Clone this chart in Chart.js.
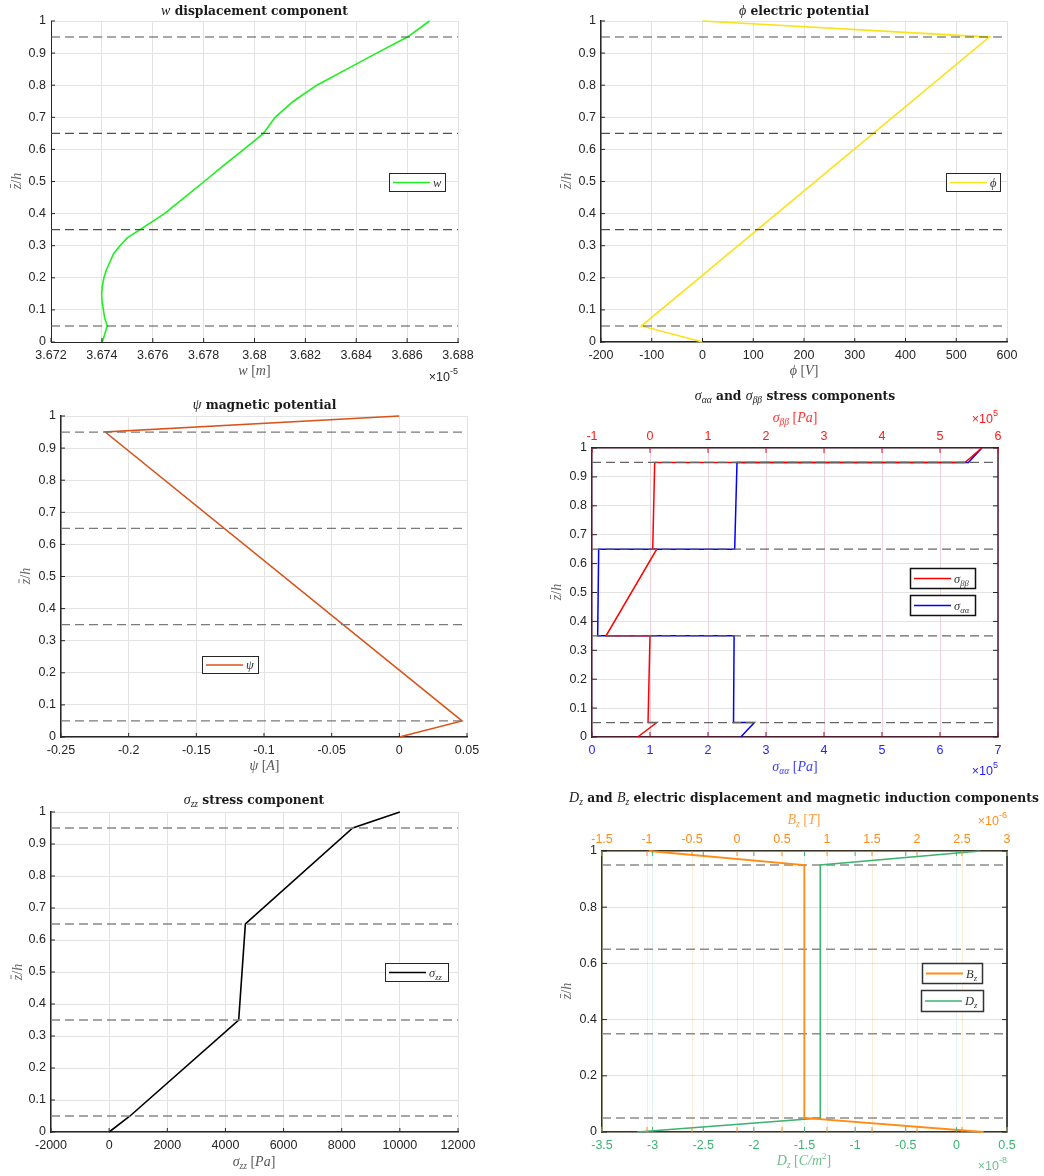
<!DOCTYPE html>
<html>
<head>
<meta charset="utf-8">
<script src="https://cdn.jsdelivr.net/npm/chart.js@4.4.1/dist/chart.umd.min.js"></script>
<style>
  html, body { margin: 0; padding: 0; background: #ffffff; }
  #page { position: relative; width: 1044px; height: 1176px; overflow: hidden; }
  #page canvas { position: absolute; left: 0; top: 0; }
</style>
</head>
<body>
<div id="page"></div>
<script>
// ---------------- data ----------------
// layer interfaces through the thickness (z/h)
const interfaces = [0.05, 0.35, 0.65, 0.95];
const zTicks = [0, 0.1, 0.2, 0.3, 0.4, 0.5, 0.6, 0.7, 0.8, 0.9, 1];
const zTicksCoarse = [0, 0.2, 0.4, 0.6, 0.8, 1];

// transverse displacement w, in units of 1e-5 m
const wZ   = [0, 0.05, 0.075, 0.1, 0.125, 0.15, 0.175, 0.2, 0.225, 0.25, 0.275, 0.3, 0.325, 0.35,
              0.4, 0.45, 0.5, 0.55, 0.6, 0.65, 0.7, 0.75, 0.8, 0.85, 0.9, 0.95, 1];
const wVal = [3.67402, 3.67421, 3.67411, 3.67406, 3.67401, 3.67399, 3.67402, 3.67408, 3.67418, 3.67432,
              3.67446, 3.67471, 3.67501, 3.67550, 3.67646, 3.67724, 3.67802, 3.67879, 3.67958, 3.68035,
              3.68081, 3.68153, 3.68245, 3.68363, 3.68480, 3.68601, 3.68688];
const wTicks = [3.672, 3.674, 3.676, 3.678, 3.68, 3.682, 3.684, 3.686, 3.688];

// electric potential phi [V]
const phiZ = [0, 0.05, 0.95, 1];
const phiVal = [0, -120, 565, 0];
const phiTicks = [-200, -100, 0, 100, 200, 300, 400, 500, 600];

// magnetic potential psi [A]
const psiZ = [0, 0.05, 0.95, 1];
const psiVal = [0, 0.0463, -0.2173, 0];
const psiTicks = [-0.25, -0.2, -0.15, -0.1, -0.05, 0, 0.05];

// in-plane stresses, in units of 1e5 Pa
const stressZ = [0, 0.05, 0.05, 0.35, 0.35, 0.65, 0.65, 0.95, 0.95, 1];
const sigmaAA = [2.565, 2.80, 2.44, 2.45, 0.098, 0.115, 2.46, 2.50, 6.49, 6.72];
const sigmaBB = [-0.212, 0.116, -0.034, 0.0, -0.758, 0.116, 0.047, 0.081, 5.43, 5.72];
const sigmaAATicks = [0, 1, 2, 3, 4, 5, 6, 7];
const sigmaBBTicks = [-1, 0, 1, 2, 3, 4, 5, 6];

// transverse normal stress sigma_zz [Pa]
const szzZ = [0, 0.05, 0.35, 0.65, 0.95, 1];
const szzVal = [0, 718, 4456, 4686, 8378, 10000];
const szzTicks = [-2000, 0, 2000, 4000, 6000, 8000, 10000, 12000];

// magnetic induction B_z (1e-6 T) and electric displacement D_z (1e-8 C/m^2)
const fieldZ = [0, 0.05, 0.95, 1];
const bzVal = [2.74, 0.748, 0.748, -0.98];
const dzVal = [-3.154, -1.344, -1.344, 0.236];
const bzTicks = [-1.5, -1, -0.5, 0, 0.5, 1, 1.5, 2, 2.5, 3];
const dzTicks = [-3.5, -3, -2.5, -2, -1.5, -1, -0.5, 0, 0.5];

// ---------------- drawing helpers ----------------
const PAGE_W = 1044, PAGE_H = 1176;
const Y_W = 40, X_H = 30, XT_H = 30;
const SANS = '"Liberation Sans", Arial, sans-serif';
const SERIF = '"Liberation Serif", "DejaVu Serif", serif';
const TITLE_BOLD = 'bold 12.3px "DejaVu Serif", serif';
const TITLE_MATH = 'italic 14px ' + SERIF;
const TITLE_SUB = 'italic 9.5px ' + SERIF;
const LABEL_MATH = 'italic 14px ' + SERIF;
const LABEL_ROMAN = '14px ' + SERIF;
const LABEL_SUB = 'italic 9.5px ' + SERIF;
const LEG_MATH = 'italic 12.5px ' + SERIF;
const LEG_SUB = 'italic 8.5px ' + SERIF;
const TICK_FONT = { family: SANS, size: 12.5 };

function seg(t, font, dy, color, bar) { return { t, font, dy: dy || 0, color, bar }; }
const zip = (xs, zs) => xs.map((v, i) => ({ x: v, y: zs[i] }));

// draws a run of differently styled pieces of text on one baseline
function drawRich(ctx, segs, x, y, align, color, rot) {
  ctx.save();
  ctx.translate(x, y);
  if (rot) ctx.rotate(rot);
  ctx.textBaseline = 'alphabetic';
  ctx.textAlign = 'left';
  let w = 0;
  segs.forEach(s => { ctx.font = s.font; w += ctx.measureText(s.t).width; });
  let cx = align === 'center' ? -w / 2 : (align === 'right' ? -w : 0);
  segs.forEach(s => {
    ctx.font = s.font;
    const c = s.color || color;
    ctx.fillStyle = c;
    ctx.fillText(s.t, cx, s.dy);
    const sw = ctx.measureText(s.t).width;
    if (s.bar) {
      // overbar above the glyph
      ctx.strokeStyle = c; ctx.lineWidth = 0.9;
      ctx.beginPath();
      ctx.moveTo(cx + sw * 0.2, s.dy - 10.5);
      ctx.lineTo(cx + sw * 0.95, s.dy - 10.5);
      ctx.stroke();
    }
    cx += sw;
  });
  ctx.restore();
}

function expLabel(exp, color, x, y) {
  return { segs: [seg('\u00d710', '12.5px ' + SANS), seg(exp, '9px ' + SANS, -7)], x, y, align: 'right', color };
}
function zLabel(x, y) {
  return { segs: [seg('z', LABEL_MATH, 0, null, true), seg('/', LABEL_ROMAN), seg('h', LABEL_MATH)],
           x, y, align: 'center', color: '#666666', rot: -Math.PI / 2 };
}

const decorPlugin = {
  id: 'panelDecor',
  afterDraw(chart, args, p) {
    const ctx = chart.ctx;
    const ca = chart.chartArea;
    ctx.save();
    // extra frame edges
    (p.frameEdges || []).forEach(e => {
      ctx.strokeStyle = e.color; ctx.lineWidth = e.width || 1;
      ctx.beginPath();
      if (e.edge === 'right') { ctx.moveTo(ca.right, ca.top); ctx.lineTo(ca.right, ca.bottom); }
      if (e.edge === 'top') { ctx.moveTo(ca.left, ca.top); ctx.lineTo(ca.right, ca.top); }
      ctx.stroke();
    });
    // inward tick marks
    (p.tickMarks || []).forEach(m => {
      const sc = chart.scales[m.scale];
      ctx.strokeStyle = m.color; ctx.lineWidth = 1;
      sc.ticks.forEach(t => {
        const px = sc.getPixelForValue(t.value);
        ctx.beginPath();
        if (m.edge === 'bottom') { ctx.moveTo(px, ca.bottom); ctx.lineTo(px, ca.bottom - m.len); }
        if (m.edge === 'top') { ctx.moveTo(px, ca.top); ctx.lineTo(px, ca.top + m.len); }
        if (m.edge === 'left') { ctx.moveTo(ca.left, px); ctx.lineTo(ca.left + m.len, px); }
        if (m.edge === 'right') { ctx.moveTo(ca.right, px); ctx.lineTo(ca.right - m.len, px); }
        ctx.stroke();
      });
    });
    // legends
    (p.legends || []).forEach(L => {
      const [l, t, r, b] = L.box;
      ctx.fillStyle = '#ffffff';
      ctx.fillRect(l, t, r - l, b - t);
      ctx.strokeStyle = L.frame || '#262626'; ctx.lineWidth = L.frameWidth || 1;
      ctx.strokeRect(l + 0.5, t + 0.5, r - l, b - t);
      const my = (t + b) / 2 + 0.5;
      ctx.strokeStyle = L.color; ctx.lineWidth = L.width;
      ctx.beginPath(); ctx.moveTo(l + 4, my); ctx.lineTo(l + 41, my); ctx.stroke();
      drawRich(ctx, L.label, l + 44, my + 4, 'left', '#333333');
    });
    // texts
    (p.texts || []).forEach(T => drawRich(ctx, T.segs, T.x, T.y, T.align, T.color, T.rot));
    ctx.restore();
  }
};

function fixSize(size, horizontal) {
  return (scale) => {
    if (horizontal) scale.height = size; else scale.width = size;
    scale.paddingLeft = 0; scale.paddingRight = 0; scale.paddingTop = 0; scale.paddingBottom = 0;
  };
}
function useTicks(arr) { return (scale) => { scale.ticks = arr.map(v => ({ value: v })); }; }

function axisDef(a, position, size, horizontal) {
  return {
    type: 'linear',
    position,
    min: a.ticks[0],
    max: a.ticks[a.ticks.length - 1],
    afterBuildTicks: useTicks(a.ticks),
    afterFit: fixSize(size, horizontal),
    grid: { display: !!a.grid, color: a.grid || 'rgba(0,0,0,0)', lineWidth: 1, drawTicks: false },
    border: { display: true, color: a.border, width: a.borderWidth || 1 },
    ticks: {
      color: a.color, font: TICK_FONT, padding: a.padding, autoSkip: false,
      maxRotation: 0, minRotation: 0, callback: (v) => String(v)
    }
  };
}

function makePanel(p) {
  const cv = document.createElement('canvas');
  cv.width = PAGE_W; cv.height = PAGE_H;
  document.getElementById('page').appendChild(cv);
  const a = p.area;
  const scales = {
    x: axisDef(p.bottom, 'bottom', X_H, true),
    y: axisDef(p.left, 'left', Y_W, false)
  };
  if (p.top) scales.xt = axisDef(p.top, 'top', XT_H, true);

  const datasets = [];
  p.series.forEach((s) => datasets.push({
    label: s.name, data: zip(s.x, s.z), xAxisID: s.axis || 'x', yAxisID: 'y',
    borderColor: s.color, borderWidth: s.width, pointRadius: 0, fill: false,
    tension: 0, clip: false, order: s.order
  }));
  const xr = [p.bottom.ticks[0], p.bottom.ticks[p.bottom.ticks.length - 1]];
  interfaces.forEach(z => datasets.push({
    label: 'interface', data: [{ x: xr[0], y: z }, { x: xr[1], y: z }], xAxisID: 'x', yAxisID: 'y',
    borderColor: p.dash.color, borderWidth: p.dash.width, borderDash: [9, 5],
    pointRadius: 0, fill: false, clip: false, order: p.dash.order
  }));

  new Chart(cv, {
    type: 'line',
    data: { datasets },
    options: {
      responsive: false, animation: false, events: [],
      layout: { padding: {
        left: a.l - Y_W, top: a.t - (p.top ? XT_H : 0),
        right: PAGE_W - a.r, bottom: PAGE_H - a.b - X_H } },
      scales,
      plugins: {
        legend: { display: false }, tooltip: { enabled: false }, title: { display: false },
        panelDecor: p.decor
      }
    },
    plugins: [decorPlugin]
  });
}

const GRID = '#e3e3e3';
const AX = '#262626';
const plainTicks = [
  { scale: 'x', edge: 'bottom', color: AX, len: 4 },
  { scale: 'y', edge: 'left', color: AX, len: 4 }
];

// ---------------- panel 1: w displacement ----------------
makePanel({
  area: { l: 51, t: 21, r: 458, b: 342 },
  bottom: { ticks: wTicks, grid: GRID, border: AX, color: AX, padding: 6 },
  left: { ticks: zTicks, grid: GRID, border: AX, color: AX, padding: 5 },
  series: [{ name: 'w', x: wVal, z: wZ, color: '#1ef01e', width: 1.6, order: 2 }],
  dash: { color: '#505050', width: 1.1, order: 1 },
  decor: {
    tickMarks: plainTicks,
    legends: [{ box: [389, 173, 445, 191], color: '#1ef01e', width: 1.6, label: [seg('w', LEG_MATH)] }],
    texts: [
      { segs: [seg('w', TITLE_MATH), seg(' displacement component', TITLE_BOLD)], x: 254.5, y: 15, align: 'center', color: '#1a1a1a' },
      { segs: [seg('w', LABEL_MATH), seg(' [', LABEL_ROMAN), seg('m', LABEL_MATH), seg(']', LABEL_ROMAN)], x: 254.5, y: 375, align: 'center', color: '#555555' },
      expLabel('-5', AX, 458, 381),
      zLabel(21, 181)
    ]
  }
});

// ---------------- panel 2: phi electric potential ----------------
makePanel({
  area: { l: 601, t: 21, r: 1007, b: 342 },
  bottom: { ticks: phiTicks, grid: GRID, border: AX, color: AX, padding: 6, borderWidth: 1.5 },
  left: { ticks: zTicks, grid: GRID, border: AX, color: AX, padding: 5, borderWidth: 1.5 },
  series: [{ name: 'phi', x: phiVal, z: phiZ, color: '#fbe21c', width: 1.7, order: 2 }],
  dash: { color: '#505050', width: 1.1, order: 1 },
  decor: {
    tickMarks: plainTicks,
    legends: [{ box: [946, 173, 1000, 191], color: '#fbe21c', width: 1.7, label: [seg('\u03d5', LEG_MATH)] }],
    texts: [
      { segs: [seg('\u03d5', TITLE_MATH), seg(' electric potential', TITLE_BOLD)], x: 804, y: 15, align: 'center', color: '#1a1a1a' },
      { segs: [seg('\u03d5', LABEL_MATH), seg(' [', LABEL_ROMAN), seg('V', LABEL_MATH), seg(']', LABEL_ROMAN)], x: 804, y: 375, align: 'center', color: '#555555' },
      zLabel(571, 181)
    ]
  }
});

// ---------------- panel 3: psi magnetic potential ----------------
makePanel({
  area: { l: 61, t: 416, r: 467, b: 737 },
  bottom: { ticks: psiTicks, grid: GRID, border: AX, color: AX, padding: 6, borderWidth: 1.5 },
  left: { ticks: zTicks, grid: GRID, border: AX, color: AX, padding: 5, borderWidth: 1.5 },
  series: [{ name: 'psi', x: psiVal, z: psiZ, color: '#d95319', width: 1.6, order: 2 }],
  dash: { color: '#7a7a7a', width: 1.2, order: 1 },
  decor: {
    tickMarks: plainTicks,
    legends: [{ box: [202, 656, 258, 673], color: '#d95319', width: 1.6, label: [seg('\u03c8', LEG_MATH)] }],
    texts: [
      { segs: [seg('\u03c8', TITLE_MATH), seg(' magnetic potential', TITLE_BOLD)], x: 264.5, y: 409, align: 'center', color: '#1a1a1a' },
      { segs: [seg('\u03c8', LABEL_MATH), seg(' [', LABEL_ROMAN), seg('A', LABEL_MATH), seg(']', LABEL_ROMAN)], x: 264.5, y: 770, align: 'center', color: '#555555' },
      zLabel(29.5, 576)
    ]
  }
});

// ---------------- panel 4: in-plane stresses ----------------
const FRAME4 = '#4a1e2c';
makePanel({
  area: { l: 592, t: 448, r: 998, b: 737 },
  bottom: { ticks: sigmaAATicks, grid: null, border: FRAME4, color: '#1f1fff', padding: 6, borderWidth: 1.5 },
  top: { ticks: sigmaBBTicks, grid: '#efd3dc', border: FRAME4, color: '#ff1a1a', padding: 4, borderWidth: 1.5 },
  left: { ticks: zTicks, grid: GRID, border: FRAME4, color: AX, padding: 5, borderWidth: 1.5 },
  series: [
    { name: 'sigma_bb', x: sigmaBB, z: stressZ, axis: 'xt', color: '#ff0000', width: 1.5, order: 1 },
    { name: 'sigma_aa', x: sigmaAA, z: stressZ, axis: 'x', color: '#0000ff', width: 1.5, order: 2 }
  ],
  dash: { color: '#666666', width: 1.2, order: 0 },
  decor: {
    frameEdges: [{ edge: 'right', color: FRAME4, width: 1.5 }],
    tickMarks: [
      { scale: 'xt', edge: 'top', color: '#d01030', len: 5 },
      { scale: 'x', edge: 'bottom', color: '#8a1030', len: 5 },
      { scale: 'y', edge: 'left', color: AX, len: 5 },
      { scale: 'y', edge: 'right', color: AX, len: 5 }
    ],
    legends: [
      { box: [910, 568, 975, 588], color: '#ff0000', width: 1.5, frameWidth: 1.5, frame: '#111111',
        label: [seg('\u03c3', LEG_MATH), seg('\u03b2\u03b2', LEG_SUB, 3)] },
      { box: [910, 595, 975, 615], color: '#0000ff', width: 1.5, frameWidth: 1.5, frame: '#111111',
        label: [seg('\u03c3', LEG_MATH), seg('\u03b1\u03b1', LEG_SUB, 3)] }
    ],
    texts: [
      { segs: [seg('\u03c3', TITLE_MATH), seg('\u03b1\u03b1', TITLE_SUB, 3), seg(' and ', TITLE_BOLD),
               seg('\u03c3', TITLE_MATH), seg('\u03b2\u03b2', TITLE_SUB, 3), seg(' stress components', TITLE_BOLD)],
        x: 795, y: 400, align: 'center', color: '#1a1a1a' },
      { segs: [seg('\u03c3', LABEL_MATH), seg('\u03b2\u03b2', LABEL_SUB, 3), seg(' [', LABEL_ROMAN), seg('Pa', LABEL_MATH), seg(']', LABEL_ROMAN)],
        x: 795, y: 422, align: 'center', color: '#ff3030' },
      { segs: [seg('\u03c3', LABEL_MATH), seg('\u03b1\u03b1', LABEL_SUB, 3), seg(' [', LABEL_ROMAN), seg('Pa', LABEL_MATH), seg(']', LABEL_ROMAN)],
        x: 795, y: 771, align: 'center', color: '#3a3aff' },
      expLabel('5', '#ff1a1a', 998, 423),
      expLabel('5', '#1f1fff', 998, 775),
      zLabel(561, 592)
    ]
  }
});

// ---------------- panel 5: sigma_zz ----------------
makePanel({
  area: { l: 51, t: 812, r: 458, b: 1132 },
  bottom: { ticks: szzTicks, grid: GRID, border: AX, color: AX, padding: 6, borderWidth: 1.5 },
  left: { ticks: zTicks, grid: GRID, border: AX, color: AX, padding: 5, borderWidth: 1.5 },
  series: [{ name: 'sigma_zz', x: szzVal, z: szzZ, color: '#000000', width: 1.6, order: 2 }],
  dash: { color: '#888888', width: 1.5, order: 1 },
  decor: {
    tickMarks: plainTicks,
    legends: [{ box: [385, 963, 448, 981], color: '#000000', width: 1.6,
      label: [seg('\u03c3', LEG_MATH), seg('zz', LEG_SUB, 3)] }],
    texts: [
      { segs: [seg('\u03c3', TITLE_MATH), seg('zz', TITLE_SUB, 3), seg(' stress component', TITLE_BOLD)],
        x: 254, y: 804, align: 'center', color: '#1a1a1a' },
      { segs: [seg('\u03c3', LABEL_MATH), seg('zz', LABEL_SUB, 3), seg(' [', LABEL_ROMAN), seg('Pa', LABEL_MATH), seg(']', LABEL_ROMAN)],
        x: 254, y: 1166, align: 'center', color: '#555555' },
      zLabel(21.5, 972)
    ]
  }
});

// ---------------- panel 6: D_z and B_z ----------------
const FRAME6 = '#3d3426';
const ORANGE = '#ff8c14', GREEN = '#3cb371';
makePanel({
  area: { l: 602, t: 851, r: 1007, b: 1132 },
  bottom: { ticks: dzTicks, grid: 'rgba(60,179,113,0.16)', border: FRAME6, color: GREEN, padding: 6, borderWidth: 1.5 },
  top: { ticks: bzTicks, grid: 'rgba(255,140,20,0.18)', border: FRAME6, color: ORANGE, padding: 4, borderWidth: 1.5 },
  left: { ticks: zTicksCoarse, grid: GRID, border: FRAME6, color: AX, padding: 5, borderWidth: 1.5 },
  series: [
    { name: 'B_z', x: bzVal, z: fieldZ, axis: 'xt', color: ORANGE, width: 1.8, order: 1 },
    { name: 'D_z', x: dzVal, z: fieldZ, axis: 'x', color: GREEN, width: 1.6, order: 2 }
  ],
  dash: { color: '#8c8c8c', width: 1.5, order: 3 },
  decor: {
    frameEdges: [{ edge: 'right', color: '#111111', width: 1.5 }],
    tickMarks: [
      { scale: 'xt', edge: 'top', color: ORANGE, len: 5 },
      { scale: 'xt', edge: 'bottom', color: ORANGE, len: 5 },
      { scale: 'x', edge: 'top', color: GREEN, len: 5 },
      { scale: 'x', edge: 'bottom', color: GREEN, len: 5 },
      { scale: 'y', edge: 'left', color: AX, len: 5 },
      { scale: 'y', edge: 'right', color: AX, len: 5 }
    ],
    legends: [
      { box: [922, 963, 982, 983], color: ORANGE, width: 1.8, frameWidth: 1.5, frame: '#333333',
        label: [seg('B', LEG_MATH), seg('z', LEG_SUB, 3)] },
      { box: [921, 990, 983, 1011], color: GREEN, width: 1.6, frameWidth: 1.5, frame: '#333333',
        label: [seg('D', LEG_MATH), seg('z', LEG_SUB, 3)] }
    ],
    texts: [
      { segs: [seg('D', TITLE_MATH), seg('z', TITLE_SUB, 3), seg(' and ', TITLE_BOLD), seg('B', TITLE_MATH), seg('z', TITLE_SUB, 3),
               seg(' electric displacement and magnetic induction components', TITLE_BOLD)],
        x: 804, y: 801.5, align: 'center', color: '#1a1a1a' },
      { segs: [seg('B', LABEL_MATH), seg('z', LABEL_SUB, 3), seg(' [', LABEL_ROMAN), seg('T', LABEL_MATH), seg(']', LABEL_ROMAN)],
        x: 804, y: 824, align: 'center', color: '#ffa040' },
      { segs: [seg('D', LABEL_MATH), seg('z', LABEL_SUB, 3), seg(' [', LABEL_ROMAN), seg('C/m', LABEL_MATH), seg('2', '9px ' + SERIF, -6), seg(']', LABEL_ROMAN)],
        x: 804, y: 1165, align: 'center', color: '#6cc08f' },
      expLabel('-6', ORANGE, 1007, 825),
      expLabel('-8', '#6cc08f', 1007, 1170),
      zLabel(571, 991)
    ]
  }
});
</script>
</body>
</html>
